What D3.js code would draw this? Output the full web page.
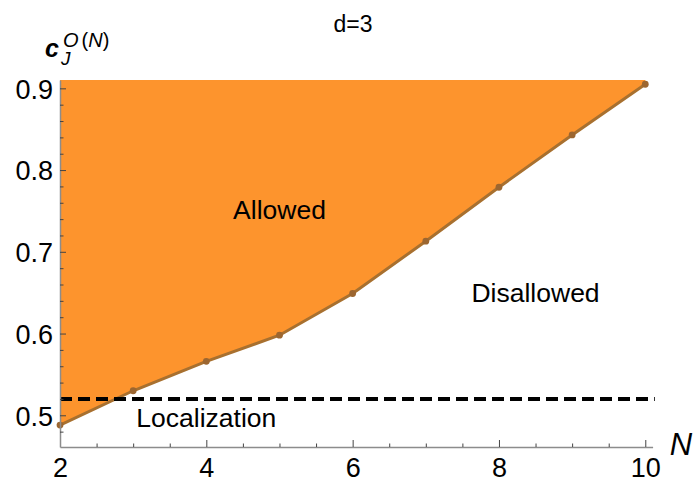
<!DOCTYPE html>
<html>
<head>
<meta charset="utf-8">
<script src="https://cdn.jsdelivr.net/npm/d3@7"></script>
<style>
  body { margin: 0; background: #fff; }
  svg { font-family: "Liberation Sans", Arial, sans-serif; }
</style>
</head>
<body>
<svg id="chart" width="695" height="481"></svg>
<script>
// data
const nValues = [2, 3, 4, 5, 6, 7, 8, 9, 10];
const cValues = [0.488, 0.530, 0.566, 0.598, 0.649, 0.713, 0.779, 0.843, 0.905];
const localization = 0.52;
const xTicks = [2, 4, 6, 8, 10];
const xMinor = [2.5, 3, 3.5, 4.5, 5, 5.5, 6.5, 7, 7.5, 8.5, 9, 9.5];
const yTicks = [0.5, 0.6, 0.7, 0.8, 0.9];
const yMinor = [0.48, 0.52, 0.54, 0.56, 0.58, 0.62, 0.64, 0.66, 0.68, 0.72, 0.74, 0.76, 0.78, 0.82, 0.84, 0.86, 0.88];

// plot frame
const plotLeft = 60, plotRight = 652.6, plotTop = 80, plotBottom = 447;

const x = d3.scaleLinear().domain([2, 10.1]).range([plotLeft, plotRight]);
const y = d3.scaleLinear().domain([0.4612, 0.9102]).range([plotBottom, plotTop]);

const svg = d3.select("#chart");
const points = nValues.map((n, i) => [n, cValues[i]]);

// allowed region: above the bound, up to the top of the frame
const area = d3.area()
    .x(d => x(d[0]))
    .y0(y(0.9102))
    .y1(d => y(d[1]));

svg.append("path")
    .datum(points)
    .attr("d", area)
    .attr("fill", "#fd942d");

// the bound itself
const line = d3.line().x(d => x(d[0])).y(d => y(d[1]));
svg.append("path")
    .datum(points)
    .attr("d", line)
    .attr("fill", "none")
    .attr("stroke", "#a8702f")
    .attr("stroke-width", 3);

svg.append("g").selectAll("circle")
    .data(points)
    .join("circle")
    .attr("cx", d => x(d[0]))
    .attr("cy", d => y(d[1]))
    .attr("r", 3.4)
    .attr("fill", "#9c6630");

// localization threshold
svg.append("line")
    .attr("x1", x(2)).attr("x2", x(10.13))
    .attr("y1", y(localization)).attr("y2", y(localization))
    .attr("stroke", "#000")
    .attr("stroke-width", 4)
    .attr("stroke-dasharray", "12,6");

// axes (ticks pointing inside)
function styleAxis(g) {
  g.select(".domain").attr("stroke", "#8c8c8c").attr("stroke-width", 1.5);
  g.selectAll(".tick line").attr("stroke", "#444");
  g.selectAll(".tick text").attr("fill", "#000");
}

svg.append("g")
    .attr("transform", `translate(0,${plotBottom})`)
    .call(d3.axisBottom(x).tickValues(xMinor).tickSize(-3.5).tickSizeOuter(0).tickFormat(""))
    .call(styleAxis);

svg.append("g")
    .attr("transform", `translate(0,${plotBottom})`)
    .call(d3.axisBottom(x).tickValues(xTicks).tickSize(-7).tickSizeOuter(0).tickPadding(0).tickFormat(d3.format("d")))
    .call(styleAxis)
    .call(g => g.select(".domain").remove())
    .call(g => g.selectAll(".tick text")
        .attr("y", 30).attr("dy", 0)
        .attr("font-size", 27));

svg.append("g")
    .attr("transform", `translate(${plotLeft},0)`)
    .call(d3.axisLeft(y).tickValues(yMinor).tickSize(-3.5).tickSizeOuter(0).tickFormat(""))
    .call(styleAxis);

svg.append("g")
    .attr("transform", `translate(${plotLeft},0)`)
    .call(d3.axisLeft(y).tickValues(yTicks).tickSize(-6).tickSizeOuter(0).tickFormat(d3.format(".1f")))
    .call(styleAxis)
    .call(g => g.select(".domain").remove())
    .call(g => g.selectAll(".tick text")
        .attr("x", -7).attr("dy", "0.36em")
        .attr("font-size", 27));

// region labels
const labels = [
  { text: "Allowed", n: 5.0, c: 0.740 },
  { text: "Disallowed", n: 8.5, c: 0.638 },
  { text: "Localization", n: 4.0, c: 0.486 }
];
svg.append("g").selectAll("text")
    .data(labels)
    .join("text")
    .attr("x", d => x(d.n))
    .attr("y", d => y(d.c))
    .attr("text-anchor", "middle")
    .attr("font-size", 26.5)
    .attr("fill", "#000")
    .text(d => d.text);

// title
svg.append("text")
    .attr("x", 353).attr("y", 32)
    .attr("text-anchor", "middle")
    .attr("font-size", 23)
    .text("d=3");

// axis names
svg.append("text")
    .attr("x", 681).attr("y", 455)
    .attr("text-anchor", "middle")
    .attr("font-size", 31)
    .attr("font-style", "italic")
    .text("N");

const yl = svg.append("g");
yl.append("text").attr("x", 45).attr("y", 57)
    .attr("font-size", 25).attr("font-weight", "bold").attr("font-style", "italic")
    .text("c");
yl.append("text").attr("x", 61).attr("y", 65)
    .attr("font-size", 19).attr("font-style", "italic")
    .text("J");
const sup = yl.append("text").attr("x", 63).attr("y", 47).attr("font-size", 20);
sup.append("tspan").attr("font-style", "italic").text("O");
sup.append("tspan").attr("dx", 3).text("(");
sup.append("tspan").attr("font-style", "italic").text("N");
sup.append("tspan").text(")");
</script>
</body>
</html>
